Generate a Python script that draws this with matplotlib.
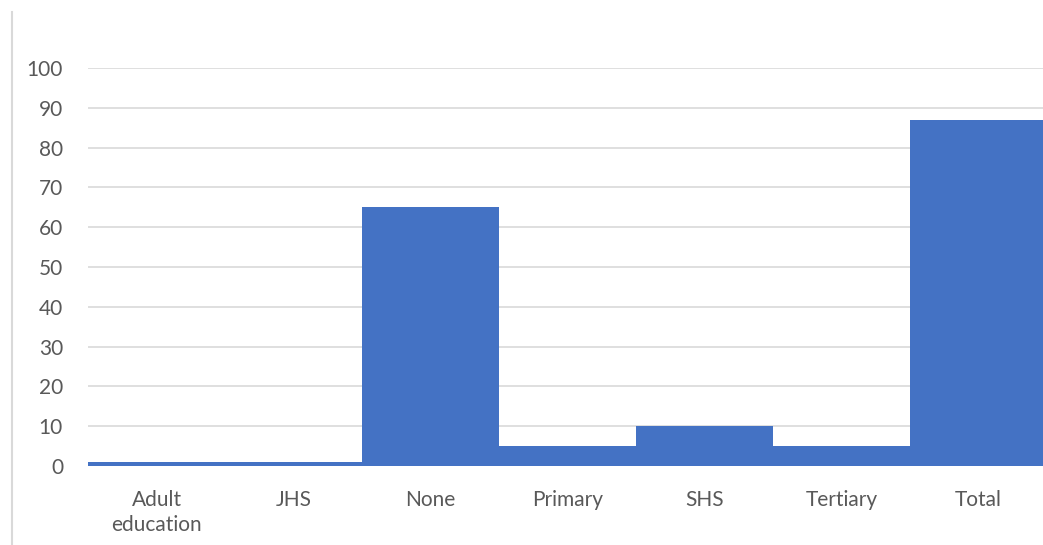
import matplotlib
matplotlib.use("Agg")
import matplotlib.pyplot as plt
from matplotlib.lines import Line2D

# data
categories = ["Adult\neducation", "JHS", "None", "Primary", "SHS", "Tertiary", "Total"]
values = [1, 1, 65, 5, 10, 5, 87]
yticks = [0, 10, 20, 30, 40, 50, 60, 70, 80, 90, 100]

plt.rcParams['font.family'] = ['Lato', 'DejaVu Sans']

W, H = 1043, 545
fig = plt.figure(figsize=(W / 100, H / 100), dpi=100)
ax = fig.add_axes([88 / W, 1 - 466 / H, (1047 - 88) / W, (466 - 68) / H])

x = list(range(len(categories)))
ax.bar(x, values, width=1.0, color="#4472C4", linewidth=0, zorder=3)

ax.set_xlim(-0.5, len(categories) - 0.5)
ax.set_ylim(0, 100)
ax.set_yticks(yticks)
ax.set_xticks(x)
ax.set_xticklabels(categories, linespacing=1.35)
ax.grid(axis="y", color="#d9d9d9", linewidth=1.2, zorder=0)
ax.set_axisbelow(True)
for s in ax.spines.values():
    s.set_visible(False)
ax.tick_params(axis="both", length=0, labelsize=15, labelcolor="#595959")
ax.tick_params(axis="y", pad=18)
ax.tick_params(axis="x", pad=17)

# chart border remnant on the left
fig.add_artist(Line2D([12 / W, 12 / W], [0, 1 - 12 / H], transform=fig.transFigure,
                      color="#d9d9d9", linewidth=1.5))

fig.savefig("out.png", dpi=100)
